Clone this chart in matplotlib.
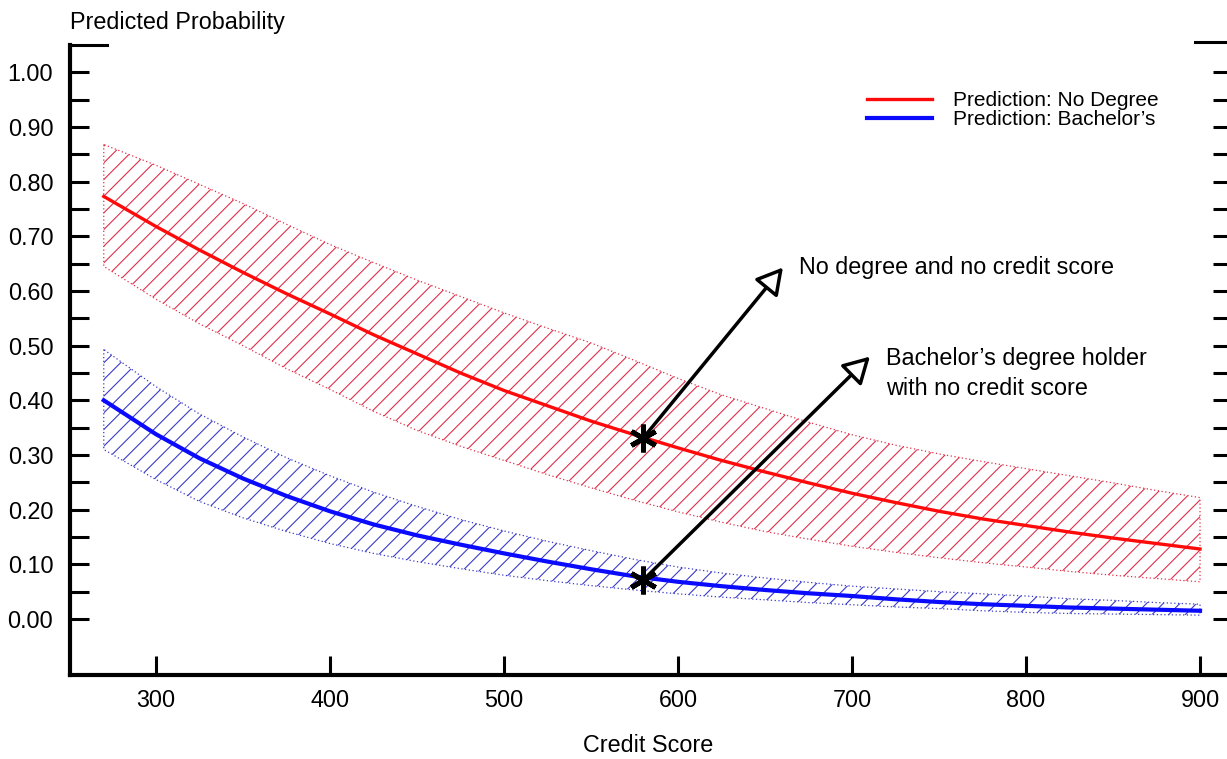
import numpy as np
import matplotlib
matplotlib.use("Agg")
import matplotlib.pyplot as plt

plt.rcParams['font.family'] = ['Liberation Sans', 'DejaVu Sans']
plt.rcParams['hatch.linewidth'] = 0.8

# valores
credit = [270, 300, 325, 350, 375, 400, 425, 450, 475, 500, 525, 550, 575, 600,
          625, 650, 675, 700, 725, 750, 775, 800, 825, 850, 875, 900]

nodeg_pred = [0.773, 0.718, 0.675, 0.634, 0.595, 0.558, 0.52, 0.485, 0.45, 0.418, 0.39, 0.362, 0.337,
              0.313, 0.29, 0.269, 0.249, 0.23, 0.213, 0.197, 0.183, 0.171, 0.159, 0.148, 0.138, 0.128]
nodeg_hi = [0.868, 0.83, 0.795, 0.76, 0.722, 0.685, 0.652, 0.62, 0.59, 0.56, 0.532, 0.505, 0.473,
            0.44, 0.41, 0.385, 0.36, 0.337, 0.318, 0.302, 0.288, 0.275, 0.262, 0.249, 0.235, 0.222]
nodeg_lo = [0.645, 0.585, 0.54, 0.50, 0.458, 0.42, 0.38, 0.345, 0.316, 0.29, 0.264, 0.24, 0.217,
            0.196, 0.177, 0.16, 0.146, 0.133, 0.122, 0.112, 0.103, 0.095, 0.087, 0.08, 0.074, 0.068]

bach_pred = [0.40, 0.338, 0.294, 0.257, 0.225, 0.197, 0.173, 0.153, 0.136, 0.12, 0.105, 0.091, 0.078,
             0.068, 0.06, 0.053, 0.047, 0.042, 0.036, 0.031, 0.027, 0.024, 0.021, 0.019, 0.017, 0.015]
bach_hi = [0.493, 0.425, 0.375, 0.333, 0.295, 0.262, 0.232, 0.206, 0.182, 0.161, 0.142, 0.125, 0.109,
           0.095, 0.084, 0.075, 0.067, 0.06, 0.055, 0.05, 0.046, 0.042, 0.037, 0.034, 0.03, 0.027]
bach_lo = [0.31, 0.255, 0.215, 0.185, 0.16, 0.138, 0.12, 0.105, 0.092, 0.08, 0.07, 0.061, 0.053,
           0.046, 0.04, 0.035, 0.03, 0.026, 0.022, 0.019, 0.015, 0.012, 0.01, 0.009, 0.008, 0.007]

# personas sin puntaje de credito
no_score_x = 580
no_score_nodeg = 0.331
no_score_bach = 0.071
label_nodeg = "No degree and no credit score"
label_bach = "Bachelor\u2019s degree holder\nwith no credit score"
tip_nodeg = (660.3, 0.643)
tip_bach = (710.3, 0.48)

fig = plt.figure(figsize=(12.27, 7.59), dpi=100)
ax = fig.add_axes([70 / 1227, 1 - 675 / 759, 1 - 70 / 1227, (675 - 45) / 759])
ax.set_xlim(250.6, 915.5)
ax.set_ylim(-0.1025, 1.05)

# bandas de confianza
ax.fill_between(credit, nodeg_lo, nodeg_hi, facecolor='none', edgecolor='#e0304a',
                hatch='//', linewidth=0.9, linestyle=(0, (1, 2)), zorder=1)
ax.fill_between(credit, bach_lo, bach_hi, facecolor='none', edgecolor='#3a3ac8',
                hatch='//', linewidth=0.9, linestyle=(0, (1, 2)), zorder=1)

ax.plot(credit, nodeg_pred, color='#ff0a0a', lw=2.4, label='Prediction: No Degree', zorder=3)
ax.plot(credit, bach_pred, color='#0a0aff', lw=3.0, label='Prediction: Bachelor\u2019s', zorder=3)

# flechas
for y0, tip in [(no_score_nodeg, tip_nodeg), (no_score_bach, tip_bach)]:
    ax.annotate('', xy=tip, xytext=(no_score_x, y0),
                arrowprops=dict(arrowstyle='-|>,head_length=0.8,head_width=0.45',
                                mutation_scale=20, lw=2.5, ec='black', fc='white',
                                shrinkA=0, shrinkB=0), zorder=5)
ax.plot([no_score_x, no_score_x], [no_score_nodeg, no_score_bach], ls='none',
        marker=(6, 2, 0), markersize=20, mew=3.5, color='black', zorder=6)

ax.text(tip_nodeg[0] + 9, tip_nodeg[1], label_nodeg, fontsize=16.8, va='center', ha='left')
ax.text(tip_bach[0] + 9, 0.449, label_bach, fontsize=16.8, va='center', ha='left',
        linespacing=1.35)

# ejes
ax.set_yticks(np.arange(0, 1.01, 0.1))
ax.set_yticklabels([f"{v:.2f}" for v in np.arange(0, 1.01, 0.1)])
ax.set_yticks(np.arange(0.05, 1.0, 0.1), minor=True)
ax.set_xticks(range(300, 901, 100))

ax.spines['top'].set_visible(False)
ax.spines['right'].set_visible(False)
ax.spines['left'].set_linewidth(3)
ax.spines['bottom'].set_linewidth(3)

ax.tick_params(axis='y', which='both', direction='in', length=13.5, width=2.2,
               labelsize=16.8, pad=12, right=True)
ax.tick_params(axis='x', direction='in', length=14, width=2.2, labelsize=16.8, pad=10)
for tl in ax.yaxis.get_major_ticks() + ax.yaxis.get_minor_ticks():
    tl.tick2line.set_markersize(10)

# trozos del marco arriba
ax.plot([0, 0.032], [1, 1], transform=ax.transAxes, color='black', lw=2.2, clip_on=False)
ax.plot([0.972, 1.0], [1.004, 1.004], transform=ax.transAxes, color='black', lw=2.2, clip_on=False)

fig.text(70 / 1227, 1 - 22 / 759, 'Predicted Probability', fontsize=16.8, va='center', ha='left')
ax.set_xlabel('Credit Score', fontsize=16.8, labelpad=16)

ax.legend(loc='center left', bbox_to_anchor=(867 / 1227, 1 - 110 / 759),
          bbox_transform=fig.transFigure, frameon=False, fontsize=15,
          handlelength=3.1, handletextpad=1.05, labelspacing=0.0,
          borderpad=0, borderaxespad=0)

fig.savefig('out.png', dpi=100)
